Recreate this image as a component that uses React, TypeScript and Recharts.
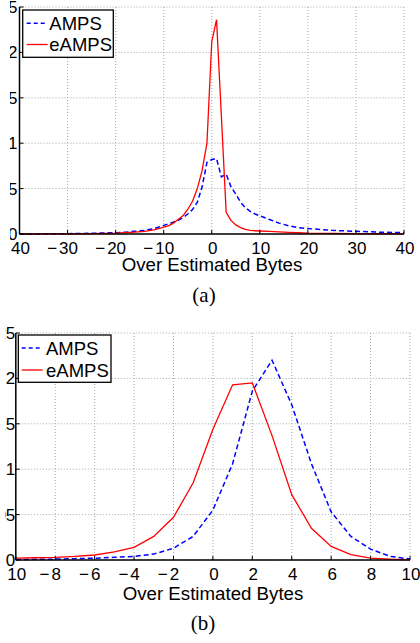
import { LineChart, Line, XAxis, YAxis, CartesianGrid } from "recharts";

// panel (a): error distribution over a wide range
const xA = [-40, -35, -30, -25, -20, -18, -16, -14, -12, -10, -9, -8, -7, -6, -5, -4, -3, -2, -1, 0, 1, 2, 3, 4, 5, 6, 7, 8, 9, 10, 12, 14, 16, 18, 20, 25, 30, 35, 40];
const ampsA = [0, 0.0002, 0.0004, 0.0008, 0.0015, 0.002, 0.003, 0.004, 0.006, 0.0095, 0.011, 0.013, 0.015, 0.018, 0.022, 0.027, 0.035, 0.052, 0.079, 0.082, 0.083, 0.063, 0.066, 0.052, 0.044, 0.035, 0.029, 0.025, 0.022, 0.02, 0.016, 0.012, 0.009, 0.007, 0.006, 0.004, 0.003, 0.002, 0.0015];
const eampsA = [0, 0.0001, 0.0002, 0.0005, 0.001, 0.0015, 0.002, 0.003, 0.0045, 0.0075, 0.009, 0.012, 0.016, 0.02, 0.027, 0.036, 0.05, 0.07, 0.1, 0.212, 0.236, 0.13, 0.024, 0.015, 0.01, 0.007, 0.005, 0.004, 0.0036, 0.0033, 0.0028, 0.0024, 0.0018, 0.0014, 0.001, 0.0006, 0.0004, 0.0003, 0.0002];

// panel (b): zoom on -10..10
const xB = [-10, -9, -8, -7, -6, -5, -4, -3, -2, -1, 0, 1, 2, 3, 4, 5, 6, 7, 8, 9, 10];
const ampsB = [0.0005, 0.0007, 0.001, 0.0015, 0.002, 0.003, 0.004, 0.0065, 0.013, 0.026, 0.055, 0.106, 0.186, 0.22, 0.171, 0.106, 0.053, 0.026, 0.012, 0.004, 0.001];
const eampsB = [0.002, 0.0025, 0.003, 0.004, 0.0055, 0.009, 0.014, 0.026, 0.047, 0.085, 0.144, 0.193, 0.195, 0.137, 0.072, 0.035, 0.015, 0.006, 0.002, 0.0008, 0.0002];

const xTicksA = [-40, -30, -20, -10, 0, 10, 20, 30, 40];
const xTicksB = [-10, -8, -6, -4, -2, 0, 2, 4, 6, 8, 10];
const yTicks = [0, 0.05, 0.1, 0.15, 0.2, 0.25];
const seriesNames = ["AMPS", "eAMPS"];
const axisTitle = "Over Estimated Bytes";
const captions = ["(a)", "(b)"];

const SANS = "'Liberation Sans', Arial, Helvetica, sans-serif";
const SERIF = "'Liberation Serif', 'Times New Roman', serif";
const BLUE = "#0000ff";
const RED = "#ff0000";
const FS = 17;

const XTick = (props: any) => {
  const { x, y, payload } = props;
  const v = payload.value;
  const digits = String(Math.abs(v));
  const half = (digits.length * 0.556 * FS) / 2;
  return (
    <g>
      <text x={x + 1} y={y} textAnchor="middle" fontSize={FS} fontFamily={SANS} fill="#000">
        {digits}
      </text>
      {v < 0 && (
        <text x={x + 1 - half - 2} y={y} textAnchor="end" fontSize={FS} fontFamily={SANS} fill="#000">
          −
        </text>
      )}
    </g>
  );
};

const YTick = (props: any) => {
  const { x, y, payload } = props;
  return (
    <text x={x} y={y + 6} textAnchor="end" fontSize={FS} fontFamily={SANS} fill="#000">
      {String(payload.value)}
    </text>
  );
};

type PanelProps = {
  xs: number[];
  amps: number[];
  eamps: number[];
  xTicks: number[];
  top: number;
  crop: number;
  marginTop: number;
  yAxisWidth: number;
  yTickMargin: number;
  marginRight: number;
};

const Panel = ({ xs, amps, eamps, xTicks, top, crop, marginTop, yAxisWidth, yTickMargin, marginRight }: PanelProps) => {
  const data = xs.map((x, i) => ({ x, amps: amps[i], eamps: eamps[i] }));
  const height = marginTop + 227 + 30;
  return (
    <div style={{ position: "absolute", left: crop, top, width: 420 - crop, height, overflow: "hidden" }}>
      <div style={{ position: "absolute", left: -40 - crop, top: 0 }}>
        <LineChart
          width={460}
          height={height}
          data={data}
          margin={{ top: marginTop, right: marginRight, left: 0, bottom: 0 }}
        >
          <CartesianGrid stroke="#a8a8a8" strokeDasharray="1 2" />
          <XAxis
            dataKey="x"
            type="number"
            domain={[xTicks[0], xTicks[xTicks.length - 1]]}
            ticks={xTicks}
            interval={0}
            height={30}
            tickSize={-4}
            tickMargin={23.5}
            tick={<XTick />}
            axisLine={{ stroke: "#000", strokeWidth: 1.5 }}
            tickLine={{ stroke: "#000" }}
          />
          <YAxis
            type="number"
            domain={[0, 0.25]}
            ticks={yTicks}
            interval={0}
            width={yAxisWidth}
            tickSize={-4}
            tickMargin={yTickMargin}
            tick={<YTick />}
            axisLine={{ stroke: "#000", strokeWidth: 1.5 }}
            tickLine={{ stroke: "#000" }}
          />
          <Line
            type="linear"
            dataKey="amps"
            name={seriesNames[0]}
            stroke={BLUE}
            strokeWidth={1.5}
            strokeDasharray="5 3"
            dot={false}
            isAnimationActive={false}
          />
          <Line
            type="linear"
            dataKey="eamps"
            name={seriesNames[1]}
            stroke={RED}
            strokeWidth={1.3}
            dot={false}
            isAnimationActive={false}
          />
        </LineChart>
      </div>
    </div>
  );
};

const LegendBox = ({ x, y, w, h, sx, rows, tx }: { x: number; y: number; w: number; h: number; sx: number; rows: number[]; tx: number }) => (
  <g>
    <rect x={x} y={y} width={w} height={h} fill="#fff" stroke="#000" strokeWidth={1.3} />
    <line x1={sx} x2={sx + 21} y1={rows[0]} y2={rows[0]} stroke={BLUE} strokeWidth={1.5} strokeDasharray="4 3" />
    <line x1={sx} x2={sx + 21} y1={rows[1]} y2={rows[1]} stroke={RED} strokeWidth={1.3} />
    <text x={tx} y={rows[0] + 6.8} fontSize={18.5} fontFamily={SANS} fill="#000">{seriesNames[0]}</text>
    <text x={tx} y={rows[1] + 6.8} fontSize={18.5} fontFamily={SANS} fill="#000">{seriesNames[1]}</text>
  </g>
);

const App = () => (
  <div style={{ position: "absolute", left: 0, top: 0, width: 420, height: 643, overflow: "hidden", background: "#fff" }}>
    <Panel xs={xA} amps={ampsA} eamps={eampsA} xTicks={xTicksA} top={0} crop={9.5} marginTop={7} yAxisWidth={59.5} yTickMargin={6} marginRight={16} />
    <Panel xs={xB} amps={ampsB} eamps={eampsB} xTicks={xTicksB} top={300} crop={5} marginTop={33} yAxisWidth={55.8} yTickMargin={4.5} marginRight={10} />
    <svg width={420} height={643} style={{ position: "absolute", left: 0, top: 0, pointerEvents: "none" }}>
      <LegendBox x={22.7} y={10} w={90.6} h={47.3} sx={26.7} rows={[23.3, 44.5]} tx={49.3} />
      <LegendBox x={18.3} y={335} w={92.7} h={47.3} sx={21.7} rows={[348, 370]} tx={46} />
      <text x={212} y={270.5} textAnchor="middle" fontSize={18.7} fontFamily={SANS} fill="#000">{axisTitle}</text>
      <text x={204} y={302} textAnchor="middle" fontSize={21} fontFamily={SERIF} fill="#000">{captions[0]}</text>
      <text x={213} y={599.5} textAnchor="middle" fontSize={18.7} fontFamily={SANS} fill="#000">{axisTitle}</text>
      <text x={203} y={630} textAnchor="middle" fontSize={21} fontFamily={SERIF} fill="#000">{captions[1]}</text>
    </svg>
  </div>
);

export default App;
